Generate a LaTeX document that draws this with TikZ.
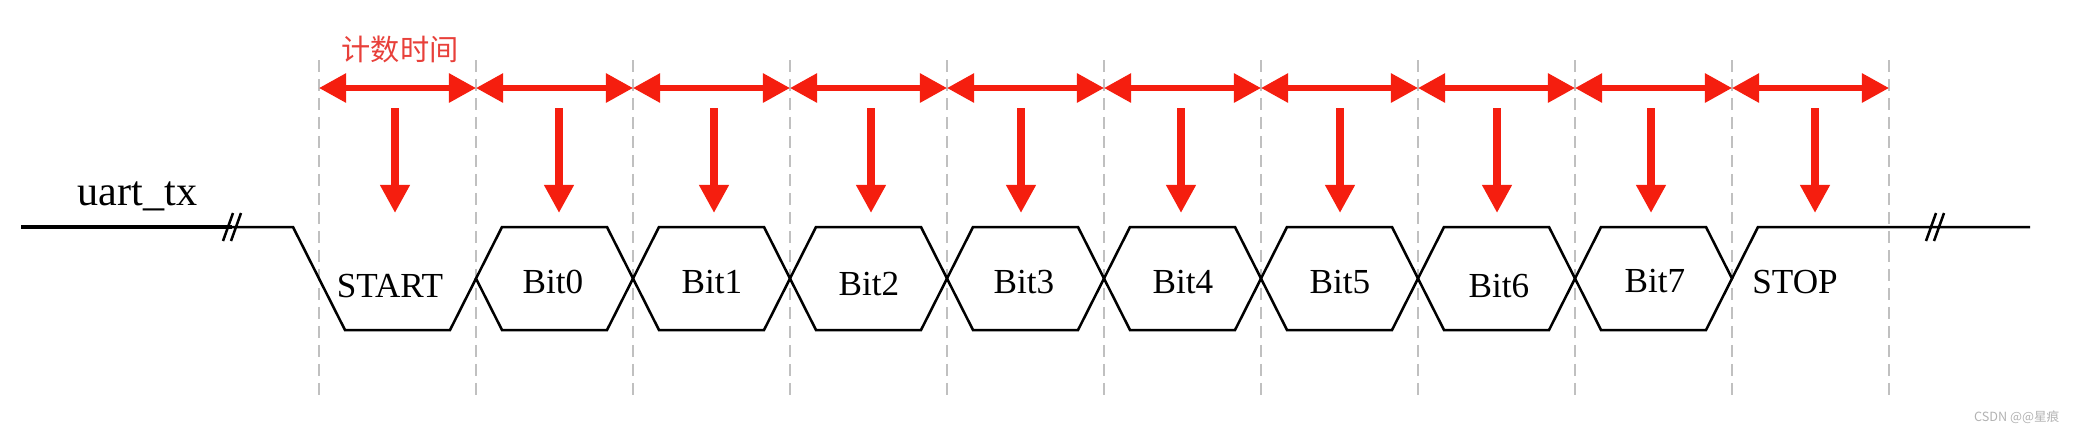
\documentclass[tikz,border=0pt]{standalone}
\usepackage{fontspec}
\setmainfont{Liberation Serif}
\newfontfamily\cjkfont{Noto Sans CJK SC}
\usepackage{xcolor}
\usepackage{tikz}
\usetikzlibrary{arrows.meta}

\definecolor{tickred}{RGB}{245,30,15}
\definecolor{labelred}{RGB}{232,64,58}
\definecolor{guidegray}{RGB}{192,192,192}

\begin{document}
\begin{tikzpicture}[x=0.01cm,y=-0.01cm,
  guide/.style={guidegray,line width=0.6pt,dash pattern=on 3.4pt off 2pt},
  wave/.style={line width=0.72pt,line join=miter},
  span/.style={tickred,line width=1.6pt,{Triangle[length=7.7pt,width=8pt]}-{Triangle[length=7.7pt,width=8pt]}},
  probe/.style={tickred,line width=2.3pt,-{Triangle[length=8pt,width=8pt]}},
  bitlbl/.style={anchor=base,inner sep=0pt,font=\fontsize{10}{12}\selectfont}]
  \useasboundingbox (0,0) rectangle (2076,432);

  % bit periods
  \foreach \k in {0,...,10}{
    \coordinate (gt\k) at (319+157*\k,60);
    \coordinate (gb\k) at (319+157*\k,395);
    \coordinate (s\k) at (319+157*\k,88);
    \coordinate (c\k) at (319+157*\k,278.5);
    \draw[guide] (gt\k) -- (gb\k);
  }
  \foreach \k [count=\j] in {0,...,9}
    \draw[span] (s\k) -- (s\j);
  \node[text=labelred,font=\cjkfont\fontsize{8.3}{10}\selectfont] (cnt) at (400,49) {计数时间};

  % sampling points
  \foreach \ax [count=\k] in {395,559,714,871,1021,1181,1340,1497,1651,1815}{
    \coordinate (p\k) at (\ax,108);
    \coordinate (q\k) at (\ax,213);
    \draw[probe] (p\k) -- (q\k);
  }

  % waveform
  \node[anchor=base west,inner sep=0pt,font=\fontsize{12}{14}\selectfont] (sig) at (77,205) {uart\_tx};
  \draw[wave,line width=0.95pt] (21,227) -- (232,227);
  \draw[wave] (232,227) -- (293,227) -- (345,330) -- (450,330) -- (c1);
  \foreach \k in {1,...,8}
    \draw[wave] (c\k) -- ++(26,-51.5) -- ++(105,0) -- ++(26,51.5)
      -- ++(-26,51.5) -- ++(-105,0) -- cycle;
  \draw[wave] (c9) -- ++(26,-51.5) -- (2030,227);
  \foreach \bx in {228,236,1931,1939}
    \draw[wave] (\bx-5,241) -- (\bx+5,213);

  \foreach \x/\y/\lab [count=\k] in {390/297/START,553/293/Bit0,712/293/Bit1,869/295/Bit2,
      1024/293/Bit3,1183/293/Bit4,1340/293/Bit5,1499/297/Bit6,1655/292/Bit7,1795/293/STOP}
    \node[bitlbl] (b\k) at (\x,\y) {\lab};

  \node[anchor=base east,inner sep=0pt,text=gray!60,font=\cjkfont\fontsize{3.6}{4}\selectfont] (wm) at (2060,421) {CSDN @@星痕};
\end{tikzpicture}
\end{document}
